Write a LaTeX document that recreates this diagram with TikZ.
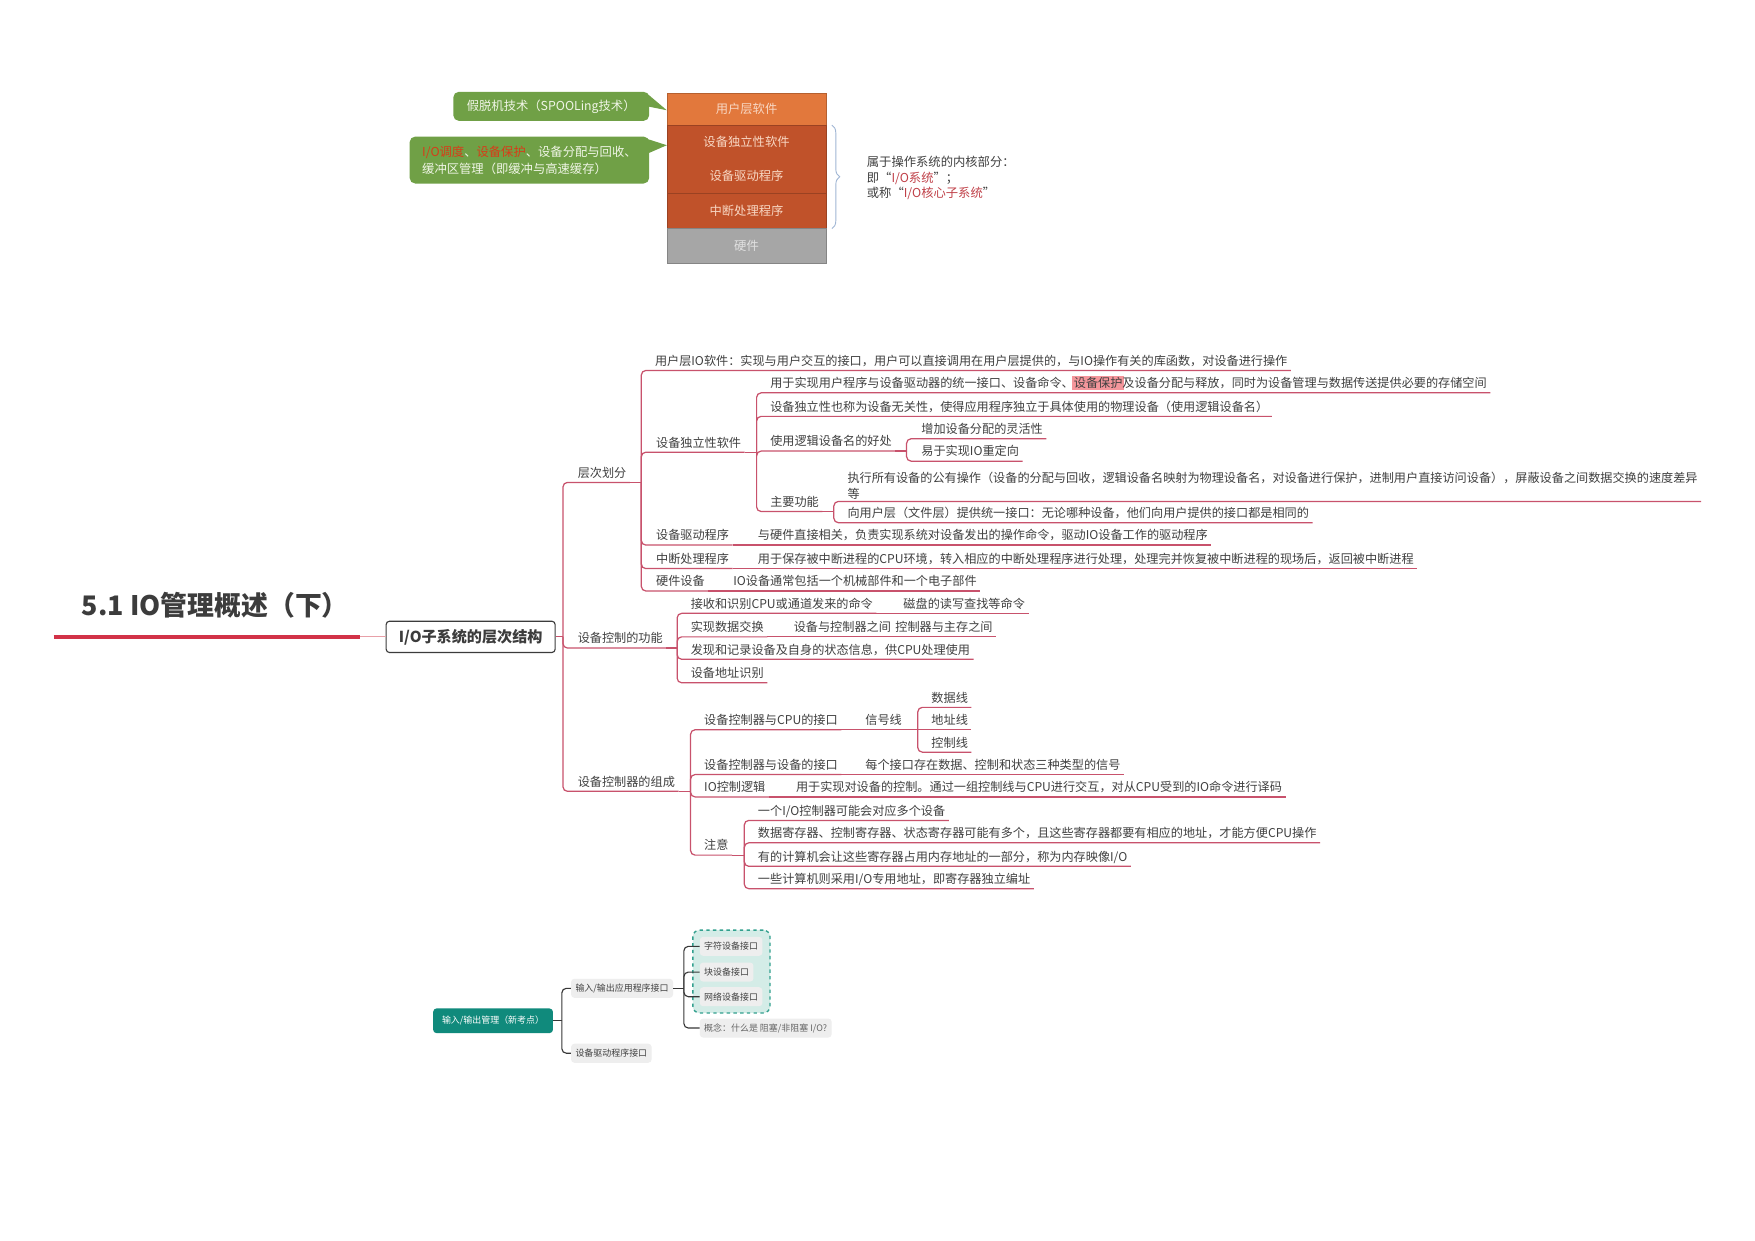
\documentclass[tikz,border=0pt]{standalone}
\usepackage{fontspec}
\setmainfont{Noto Sans CJK SC}
\usetikzlibrary{decorations.pathreplacing}
\definecolor{brc}{RGB}{200,82,108}
\definecolor{txt}{RGB}{64,64,64}
\definecolor{hlp}{RGB}{244,150,155}
\definecolor{titlec}{RGB}{60,60,60}
\definecolor{titler}{RGB}{210,50,72}
\definecolor{titlethin}{RGB}{232,160,168}
\definecolor{or1}{RGB}{226,120,60}
\definecolor{or2}{RGB}{192,82,42}
\definecolor{hwc}{RGB}{166,166,166}
\definecolor{rowt}{RGB}{248,215,195}
\definecolor{bubc}{RGB}{112,160,70}
\definecolor{bubt}{RGB}{240,245,230}
\definecolor{bubred}{RGB}{215,60,25}
\definecolor{bracec}{RGB}{160,182,212}
\definecolor{redt}{RGB}{192,64,72}
\definecolor{tealc}{RGB}{16,138,124}
\definecolor{tealbg}{RGB}{212,236,231}
\definecolor{tealbd}{RGB}{50,160,142}
\definecolor{gboxc}{RGB}{238,238,238}
\definecolor{lnk}{RGB}{55,55,55}
\newcommand\hlt[1]{{\setlength{\fboxsep}{1.5pt}\kern-1.5pt\colorbox{hlp}{#1}\kern-1.5pt}}
\newcommand\mmfork[3]{\draw[br] (#1.south east) -- (#1.south east -| #2);
  \foreach \c in {#3} {\draw[brr] (#1.south east -| #2) |- (\c.south east);}}
\begin{document}
\begin{tikzpicture}[x=1pt,y=-1pt,
  t/.style={anchor=south west, inner xsep=3pt, inner ysep=2pt, text height=8.6pt, text depth=2.4pt, font=\fontsize{10.85}{13}\selectfont, text=txt},
  t2/.style={anchor=south west, inner xsep=3pt, inner ysep=2pt, align=left, font=\fontsize{10.85}{14}\selectfont, text=txt},
  br/.style={draw=brc, line width=1.1pt},
  brr/.style={br, rounded corners=4pt},
  row/.style={rectangle, minimum width=142pt, inner sep=0pt, draw=#1!80!black, fill=#1, line width=0.5pt, font=\fontsize{11}{13}\selectfont, text=rowt},
  bub/.style={rectangle, rounded corners=5pt, fill=bubc, text=bubt, inner sep=0pt, font=\fontsize{11}{15}\selectfont},
  gbox/.style={rectangle, rounded corners=3pt, fill=gboxc, text=txt, inner xsep=4pt, inner ysep=0pt, minimum height=17pt, anchor=west, font=\fontsize{8}{9}\selectfont},
  lk/.style={draw=lnk, line width=1pt, rounded corners=4pt},
]
\useasboundingbox (0,0) rectangle (1568,1108);
\fill[white] (0,0) rectangle (1568,1108);

% ---------------- top: layer stack ----------------
\node[row=or1, minimum height=29pt] (r1) at (667,97.5) {用户层软件};
\node[row=or2, minimum height=61pt] (r2) at (667,142.5) {};
\node[font=\fontsize{11}{13}\selectfont, text=rowt] (r2a) at (667,127) {设备独立性软件};
\node[font=\fontsize{11}{13}\selectfont, text=rowt] (r2b) at (667,157) {设备驱动程序};
\node[row=or2, minimum height=31pt] (r3) at (667,188.5) {中断处理程序};
\node[row=hwc, minimum height=31pt, text={rgb,255:red,225;green,225;blue,225}] (r4) at (667,219.5) {硬件};

\node[bub, minimum width=175pt, minimum height=26pt] (b1) at (492.5,95) {假脱机技术（SPOOLing技术）};
\fill[bubc] ([xshift=-3pt,yshift=-1pt]b1.north east) -- ([yshift=-1pt]r1.west) -- ([xshift=-3pt,yshift=-13pt]b1.north east) -- cycle;
\node[bub, minimum width=214pt, minimum height=42pt, align=left] (b2) at (473,143)
  {\textcolor{bubred}{I/O调度}、\textcolor{bubred}{设备保护}、设备分配与回收、\\缓冲区管理（即缓冲与高速缓存）};
\fill[bubc] ([xshift=-3pt,yshift=-2pt]b2.north east) -- ([yshift=-18pt]r2.north west) -- ([xshift=-3pt,yshift=-16pt]b2.north east) -- cycle;

\draw[bracec, line width=0.8pt, decorate, decoration={brace, amplitude=7pt}] ([xshift=5pt]r2.north east) -- ([xshift=5pt]r3.south east);
\node[anchor=west, align=left, font=\fontsize{11}{14}\selectfont, text=txt] (kern) at (771,159)
  {属于操作系统的内核部分：\\即“\textcolor{redt}{I/O系统}”；\\或称“\textcolor{redt}{I/O核心子系统}”};

% ---------------- title & root ----------------
\node[anchor=base west, inner sep=0pt, font=\bfseries\fontsize{24}{27}\selectfont, text=titlec] (title) at (73,550) {5.1 IO管理概述（下）};
\coordinate (tl0) at (48,569);
\coordinate (tl1) at (322,569);
\draw[titler, line width=3.5pt] (tl0) -- (tl1);
\node[draw=titlec, fill=white, rounded corners=3pt, line width=1pt, minimum width=151pt, minimum height=28pt, inner sep=0pt, font=\bfseries\fontsize{13.5}{15}\selectfont, text=titlec] (root) at (420.5,569) {I/O子系统的层次结构};
\draw[titlethin, line width=1pt] (tl1) -- (root.west);

% spines
\coordinate (s0) at (503,0);
\coordinate (s1) at (573,0);
\coordinate (s2) at (605,0);
\coordinate (s3) at (617,0);
\coordinate (s4) at (676,0);
\coordinate (s5) at (810,0);
\coordinate (s6) at (745,0);
\coordinate (s7) at (820,0);
\coordinate (s8) at (665,0);

% level 1
\node[t] (L1a) at (513,431) {层次划分};
\node[t] (L1b) at (513,579) {设备控制的功能};
\node[t] (L1c) at (513,707) {设备控制器的组成};

% 层次划分
\node[t] (A1) at (582,331) {用户层IO软件：实现与用户交互的接口，用户可以直接调用在用户层提供的，与IO操作有关的库函数，对设备进行操作};
\node[t] (A2) at (583,404) {设备独立性软件};
\node[t] (A3) at (583,487) {设备驱动程序};
\node[t] (A3c) at (674,487) {与硬件直接相关，负责实现系统对设备发出的操作命令，驱动IO设备工作的驱动程序};
\node[t] (A4) at (583,508) {中断处理程序};
\node[t] (A4c) at (674,508) {用于保存被中断进程的CPU环境，转入相应的中断处理程序进行处理，处理完并恢复被中断进程的现场后，返回被中断进程};
\node[t] (A5) at (583,528) {硬件设备};
\node[t] (A5c) at (652,528) {IO设备通常包括一个机械部件和一个电子部件};

% 设备独立性软件
\node[t] (B1) at (685,351) {用于实现用户程序与设备驱动器的统一接口、设备命令、\hlt{设备保护}及设备分配与释放，同时为设备管理与数据传送提供必要的存储空间};
\node[t] (B2) at (685,372) {设备独立性也称为设备无关性，使得应用程序独立于具体使用的物理设备（使用逻辑设备名）};
\node[t] (B3) at (685,403) {使用逻辑设备名的好处};
\node[t] (B3a) at (820,392) {增加设备分配的灵活性};
\node[t] (B3b) at (820,412) {易于实现IO重定向};
\node[t] (B4) at (685,457) {主要功能};
\node[t2] (B4a) at (754,448) {执行所有设备的公有操作（设备的分配与回收，逻辑设备名映射为物理设备名，对设备进行保护，进制用户直接访问设备），屏蔽设备之间数据交换的速度差异\\等};
\node[t] (B4b) at (754,467) {向用户层（文件层）提供统一接口：无论哪种设备，他们向用户提供的接口都是相同的};

% 设备控制的功能
\node[t] (C1) at (614,548) {接收和识别CPU或通道发来的命令};
\node[t] (C1c) at (804,548) {磁盘的读写查找等命令};
\node[t] (C2) at (614,569) {实现数据交换};
\node[t] (C2c) at (706,569) {设备与控制器之间\hspace{4pt}控制器与主存之间};
\node[t] (C3) at (614,589) {发现和记录设备及自身的状态信息，供CPU处理使用};
\node[t] (C4) at (614,610) {设备地址识别};

% 设备控制器的组成
\node[t] (D1) at (626,652) {设备控制器与CPU的接口};
\node[t] (D1c) at (770,652) {信号线};
\node[t] (D1c1) at (829,632) {数据线};
\node[t] (D1c2) at (829,652) {地址线};
\node[t] (D1c3) at (829,672) {控制线};
\node[t] (D2) at (626,692) {设备控制器与设备的接口};
\node[t] (D2c) at (770,692) {每个接口存在数据、控制和状态三种类型的信号};
\node[t] (D3) at (626,712) {IO控制逻辑};
\node[t] (D3c) at (708,712) {用于实现对设备的控制。通过一组控制线与CPU进行交互，对从CPU受到的IO命令进行译码};
\node[t] (D4) at (626,764) {注意};
\node[t] (D4a) at (674,733) {一个I/O控制器可能会对应多个设备};
\node[t] (D4b) at (674,753) {数据寄存器、控制寄存器、状态寄存器可能有多个，且这些寄存器都要有相应的地址，才能方便CPU操作};
\node[t] (D4c) at (674,774) {有的计算机会让这些寄存器占用内存地址的一部分，称为内存映像I/O};
\node[t] (D4d) at (674,794) {一些计算机则采用I/O专用地址，即寄存器独立编址};

% connectors
\draw[br] (root.east) -- (root.east -| s0);
\foreach \c in {L1a,L1b,L1c} {\draw[brr] (root.east -| s0) |- (\c.south east);}
\mmfork{L1a}{s1}{A1,A2,A3,A4,A5}
\mmfork{A2}{s4}{B1,B2,B3,B4}
\mmfork{B3}{s5}{B3a,B3b}
\mmfork{B4}{s6}{B4a,B4b}
\draw[br] (A3.south east) -- (A3c.south east);
\draw[br] (A4.south east) -- (A4c.south east);
\draw[br] (A5.south east) -- (A5c.south east);
\mmfork{L1b}{s2}{C1,C2,C3,C4}
\draw[br] (C1.south east) -- (C1c.south east);
\draw[br] (C2.south east) -- (C2c.south east);
\mmfork{L1c}{s3}{D1,D2,D3,D4}
\draw[br] (D1.south east) -- (D1c.south east);
\mmfork{D1c}{s7}{D1c1,D1c3}
\draw[br] (D1c.south east) -- (D1c2.south east);
\draw[br] (D2.south east) -- (D2c.south east);
\draw[br] (D3.south east) -- (D3c.south east);
\mmfork{D4}{s8}{D4a,D4b,D4c,D4d}

% ---------------- bottom: teal mind map ----------------
\node[rectangle, rounded corners=3pt, fill=tealc, text=white, minimum width=107pt, minimum height=22pt, inner sep=0pt, font=\fontsize{8}{9}\selectfont] (io) at (440.5,912) {输入/输出管理（新考点）};
\node[gbox] (app) at (510,883) {输入/输出应用程序接口};
\node[gbox] (drv) at (510,941) {设备驱动程序接口};
\node[rectangle, rounded corners=6pt, draw=tealbd, fill=tealbg, dashed, line width=1.2pt, minimum width=69pt, minimum height=74pt, inner sep=0pt] (grp) at (653.5,868) {};
\node[gbox] (c1) at (625,845.5) {字符设备接口};
\node[gbox] (c2) at (625,868.5) {块设备接口};
\node[gbox] (c3) at (625,890.5) {网络设备接口};
\node[gbox, text={rgb,255:red,100;green,100;blue,100}] (c4) at (625,918.5) {概念：什么是 阻塞/非阻塞 I/O?};
\coordinate (t0) at (502,0);
\coordinate (t1) at (611,0);
\draw[lk] (io.east) -- (io.east -| t0);
\foreach \c in {app,drv} {\draw[lk] (io.east -| t0) |- (\c.west);}
\draw[lk] (app.east) -- (app.east -| t1);
\foreach \c in {c1,c2,c3,c4} {\draw[lk] (app.east -| t1) |- (\c.west);}
\end{tikzpicture}
\end{document}
